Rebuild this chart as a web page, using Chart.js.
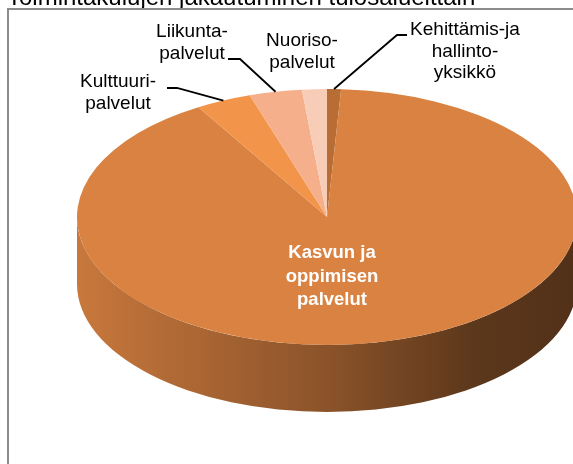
<!DOCTYPE html>
<html>
<head>
<meta charset="utf-8">
<script src="https://cdn.jsdelivr.net/npm/chart.js@4/dist/chart.umd.min.js"></script>
<style>
  html, body { margin: 0; padding: 0; background: #fff; overflow: hidden; }
  canvas { display: block; }
</style>
</head>
<body>
<canvas id="pie" width="573" height="464"></canvas>
<script>
(function(){
  // data, clockwise from 12 o'clock
  const categories = [
    'Kehittämis-ja hallintoyksikkö',
    'Kasvun ja oppimisen palvelut',
    'Kulttuuripalvelut',
    'Liikuntapalvelut',
    'Nuorisopalvelut',
  ];
  const shares = [0.9, 90.5, 3.6, 3.4, 1.6];
  const labelLines = [
    ['Kehittämis-ja', 'hallinto-', 'yksikkö'],
    ['Kasvun ja', 'oppimisen', 'palvelut'],
    ['Kulttuuri-', 'palvelut'],
    ['Liikunta-', 'palvelut'],
    ['Nuoriso-', 'palvelut'],
  ];
  const title = 'Toimintakulujen jakautuminen tulosalueittain';

  const colors = ['#b86d35', '#d98241', '#f2954a', '#f5b08b', '#f8cdb7'];

  // look of the 3d disc
  const TILT = 0.512;
  const TOP_CY = 217;
  const DEPTH = 67;

  // where the label text sits, and the elbow of its leader line (null = none)
  const labelPlace = [
    { x: 465, y: 30, lh: 21.5, color: '#000', elbow: [397, 35], tail: [407, 35] },
    { x: 332, y: 253, lh: 23.5, color: '#fff', elbow: null },
    { x: 118, y: 82, lh: 21.5, color: '#000', elbow: [177, 88], tail: [167, 88] },
    { x: 192, y: 32, lh: 21.5, color: '#000', elbow: [240, 59], tail: [228, 59] },
    { x: 302, y: 41, lh: 21.5, color: '#000', elbow: null },
  ];

  function shade(hex, f) {
    const n = parseInt(hex.slice(1), 16);
    const r = Math.round(((n >> 16) & 255) * f);
    const g = Math.round(((n >> 8) & 255) * f);
    const b = Math.round((n & 255) * f);
    return `rgb(${r},${g},${b})`;
  }

  // parts of [s,e] that face the viewer (0..PI, in canvas angles)
  function frontParts(s, e) {
    const parts = [];
    for (let k = -1; k <= 1; k++) {
      const lo = Math.max(s, k * 2 * Math.PI);
      const hi = Math.min(e, k * 2 * Math.PI + Math.PI);
      if (hi > lo) parts.push([lo, hi]);
    }
    return parts;
  }

  const pie3d = {
    id: 'pie3d',
    beforeDraw(chart) {
      const ctx = chart.ctx;
      ctx.save();
      ctx.fillStyle = '#000';
      ctx.font = '24px "Liberation Sans", Arial, sans-serif';
      ctx.textBaseline = 'alphabetic';
      ctx.fillText(title, 7, 5);
      ctx.strokeStyle = '#8c8c8c';
      ctx.lineWidth = 2;
      ctx.strokeRect(8, 9, 700, 600);
      ctx.restore();
    },
    beforeDatasetsDraw(chart) {
      const ctx = chart.ctx;
      const meta = chart.getDatasetMeta(0);
      const first = meta.data[0];
      const cx = first.x, cyN = first.y, R = first.outerRadius;
      const ry = R * TILT;

      meta.data.forEach((arc, i) => {
        const c = colors[i];
        const grad = ctx.createLinearGradient(cx - R, 0, cx + R, 0);
        grad.addColorStop(0, shade(c, 0.92));
        grad.addColorStop(0.5, shade(c, 0.64));
        grad.addColorStop(0.8, shade(c, 0.42));
        grad.addColorStop(1, shade(c, 0.38));
        frontParts(arc.startAngle, arc.endAngle).forEach(([a1, a2]) => {
          ctx.beginPath();
          ctx.ellipse(cx, TOP_CY, R, ry, 0, a1, a2);
          ctx.lineTo(cx + R * Math.cos(a2), TOP_CY + DEPTH + ry * Math.sin(a2));
          ctx.ellipse(cx, TOP_CY + DEPTH, R, ry, 0, a2, a1, true);
          ctx.closePath();
          ctx.fillStyle = grad;
          ctx.fill();
        });
      });

      ctx.save();
      ctx.translate(0, TOP_CY);
      ctx.scale(1, TILT);
      ctx.translate(0, -cyN);
    },
    afterDatasetsDraw(chart) {
      const ctx = chart.ctx;
      ctx.restore();
      const meta = chart.getDatasetMeta(0);
      const first = meta.data[0];
      const cx = first.x, R = first.outerRadius;
      const ry = R * TILT;

      ctx.save();
      meta.data.forEach((arc, i) => {
        const p = labelPlace[i];
        if (p.elbow) {
          const mid = (arc.startAngle + arc.endAngle) / 2;
          ctx.beginPath();
          ctx.moveTo(cx + R * Math.cos(mid), TOP_CY + ry * Math.sin(mid));
          ctx.lineTo(p.elbow[0], p.elbow[1]);
          ctx.lineTo(p.tail[0], p.tail[1]);
          ctx.strokeStyle = '#000';
          ctx.lineWidth = 1.8;
          ctx.stroke();
        }
        ctx.fillStyle = p.color;
        ctx.font = p.color === '#fff'
          ? 'bold 18.5px "Liberation Sans", Arial, sans-serif'
          : '19px "Liberation Sans", Arial, sans-serif';
        ctx.textAlign = 'center';
        ctx.textBaseline = 'middle';
        labelLines[i].forEach((t, j) => ctx.fillText(t, p.x, p.y + j * p.lh));
      });
      ctx.restore();
    }
  };

  new Chart(document.getElementById('pie'), {
    type: 'pie',
    data: {
      labels: categories,
      datasets: [{
        data: shares,
        backgroundColor: colors,
        borderWidth: 0,
        clip: false,
      }]
    },
    options: {
      responsive: false,
      animation: false,
      events: [],
      radius: 250,
      layout: { padding: { left: 81, right: 0, top: 0, bottom: 0 } },
      plugins: {
        legend: { display: false },
        title: { display: false },
        tooltip: { enabled: false },
      },
    },
    plugins: [pie3d],
  });
})();
</script>
</body>
</html>
